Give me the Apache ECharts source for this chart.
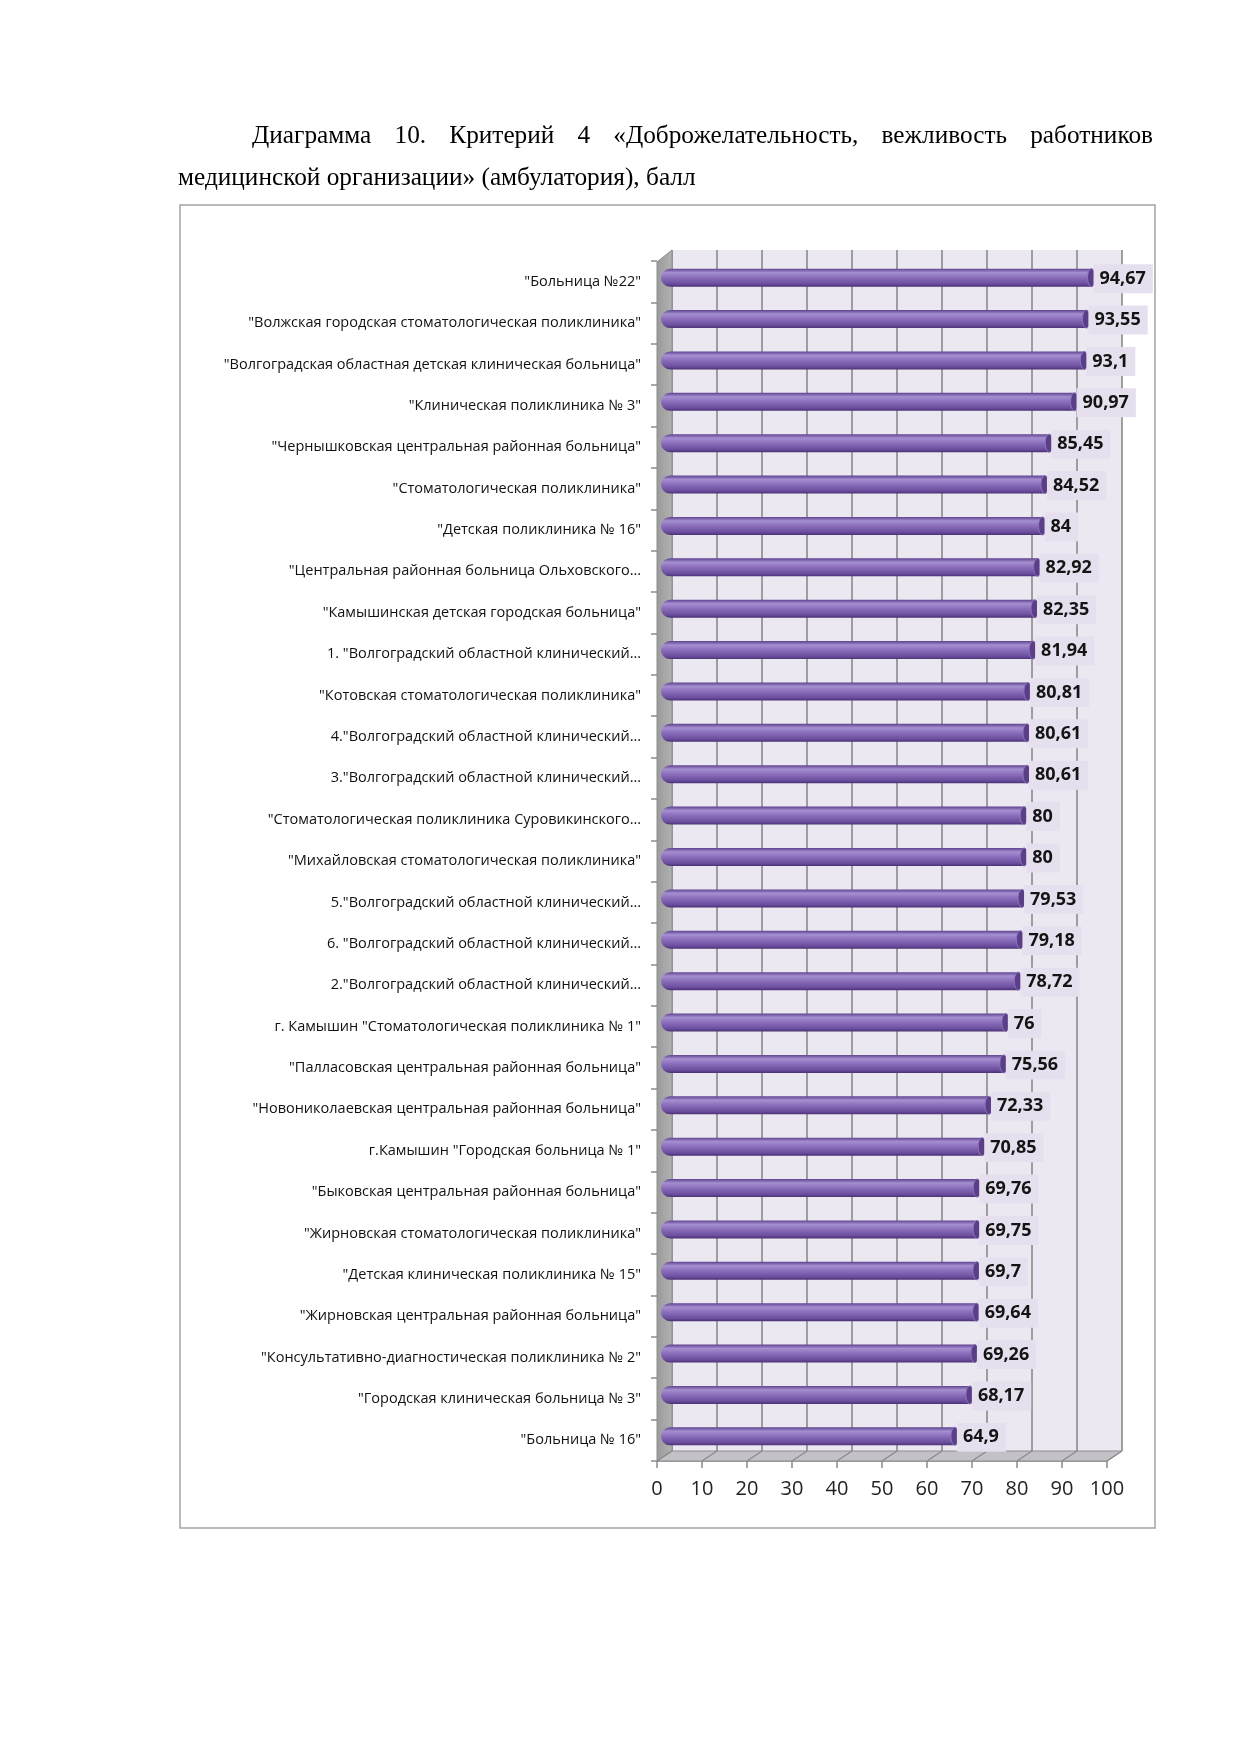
<!DOCTYPE html>
<html>
<head>
<meta charset="UTF-8">
<title>Диаграмма 10</title>
<script src="https://cdn.jsdelivr.net/npm/echarts@6.0.0/dist/echarts.min.js"></script>
<style>
  body { margin: 0; background: #fff; }
  #page { position: relative; width: 1241px; height: 1754px; }
  #chart { position: absolute; left: 0; top: 0; width: 1241px; height: 1754px; }
  .cap { position: absolute; left: 178px; width: 984px; font-family: 'Liberation Serif', serif;
         font-size: 25.3px; line-height: 42px; color: #000; white-space: nowrap; z-index: 2; }
  #line1 { top: 113px; padding-left: 74px; width: 901px; text-align: justify; text-align-last: justify; white-space: normal; }
  #line2 { top: 155px; }
</style>
</head>
<body>
<div id="page">
  <div id="chart"></div>
  <div class="cap" id="line1">Диаграмма 10. Критерий 4 «Доброжелательность, вежливость работников</div>
  <div class="cap" id="line2">медицинской организации» (амбулатория), балл</div>
</div>
<script>
// данные, сверху вниз
var categories = [
  '"Больница №22"',
  '"Волжская городская стоматологическая поликлиника"',
  '"Волгоградская областная детская клиническая больница"',
  '"Клиническая поликлиника № 3"',
  '"Чернышковская центральная районная больница"',
  '"Стоматологическая поликлиника"',
  '"Детская поликлиника № 16"',
  '"Центральная районная больница Ольховского…',
  '"Камышинская детская городская больница"',
  '1. "Волгоградский областной клинический…',
  '"Котовская стоматологическая поликлиника"',
  '4."Волгоградский областной клинический…',
  '3."Волгоградский областной клинический…',
  '"Стоматологическая поликлиника Суровикинского…',
  '"Михайловская стоматологическая поликлиника"',
  '5."Волгоградский областной клинический…',
  '6. "Волгоградский областной клинический…',
  '2."Волгоградский областной клинический…',
  'г. Камышин "Стоматологическая поликлиника № 1"',
  '"Палласовская центральная районная больница"',
  '"Новониколаевская центральная районная больница"',
  'г.Камышин "Городская больница № 1"',
  '"Быковская центральная районная больница"',
  '"Жирновская стоматологическая поликлиника"',
  '"Детская клиническая поликлиника № 15"',
  '"Жирновская центральная районная больница"',
  '"Консультативно-диагностическая поликлиника № 2"',
  '"Городская клиническая больница № 3"',
  '"Больница № 16"'
];
var values = [94.67, 93.55, 93.1, 90.97, 85.45, 84.52, 84, 82.92, 82.35, 81.94,
  80.81, 80.61, 80.61, 80, 80, 79.53, 79.18, 78.72, 76, 75.56,
  72.33, 70.85, 69.76, 69.75, 69.7, 69.64, 69.26, 68.17, 64.9];
var axisMin = 0, axisMax = 100, axisStep = 10;

var chart = echarts.init(document.getElementById('chart'));

function fmt(v) { return String(v).replace('.', ','); }

function renderBar(params, api) {
  var i = api.value(0), v = api.value(1);
  var s = api.coord([0, i]);
  var e = api.coord([v, i]);
  var h = 18, y0 = s[1] - h / 2;
  var grad = new echarts.graphic.LinearGradient(0, 0, 0, 1, [
    { offset: 0, color: '#5e4390' },
    { offset: 0.22, color: '#a58fd0' },
    { offset: 0.5, color: '#8a6dbb' },
    { offset: 0.85, color: '#6a4d9c' },
    { offset: 1, color: '#4a3174' }
  ]);
  return {
    type: 'group',
    children: [
      { type: 'rect', shape: { x: s[0] + 4, y: y0, width: e[0] - s[0] - 4, height: h, r: [9, 0, 0, 9] },
        style: { fill: grad } },
      { type: 'ellipse', shape: { cx: e[0], cy: s[1], rx: 4, ry: h / 2 },
        style: { fill: '#5a3f88', stroke: '#8f77bd', lineWidth: 1 } },
      { type: 'text', style: {
          text: fmt(v), x: e[0] + 2, y: s[1] + 1, verticalAlign: 'middle', align: 'left',
          font: 'bold 18px "Open Sans"', fill: '#141414',
          backgroundColor: '#e6e0ee', padding: [6, 7, 5, 6] } }
    ]
  };
}

chart.setOption({
  animation: false,
  grid: [
    { left: 672, right: 119, top: 250, bottom: 303, show: true, backgroundColor: '#ece8f1', borderWidth: 0 },
    { left: 657, right: 134, top: 261, bottom: 293 },
    { left: 657, right: 125, top: 257, bottom: 297 }
  ],
  xAxis: [
    { gridIndex: 0, type: 'value', min: axisMin, max: axisMax, interval: axisStep,
      axisLine: { show: false }, axisTick: { show: false }, axisLabel: { show: false },
      splitLine: { show: true, lineStyle: { color: '#8a8a8a', width: 1.6 } } },
    { gridIndex: 1, type: 'value', min: axisMin, max: axisMax, interval: axisStep,
      axisLine: { show: true, onZero: false, lineStyle: { color: '#8c8c8c', width: 1.5 } },
      axisTick: { show: true, length: 7, lineStyle: { color: '#8c8c8c', width: 1.5 } },
      axisLabel: { margin: 18, fontFamily: 'Open Sans', fontSize: 20, color: '#222' },
      splitLine: { show: false } },
    { gridIndex: 2, type: 'value', min: axisMin, max: axisMax, show: false }
  ],
  yAxis: [
    { gridIndex: 0, type: 'category', data: categories, inverse: true, show: false },
    { gridIndex: 1, type: 'category', data: categories, inverse: true,
      axisLine: { show: false },
      axisTick: { show: true, length: 6, lineStyle: { color: '#8c8c8c', width: 1.5 } },
      axisLabel: { margin: 16, fontFamily: 'Open Sans', fontSize: 14.5, color: '#111' } },
    { gridIndex: 2, type: 'category', data: categories, inverse: true, show: false }
  ],
  series: [{
    type: 'custom', xAxisIndex: 2, yAxisIndex: 2, z: 10,
    renderItem: renderBar,
    encode: { x: 1, y: 0 },
    data: values.map(function (v, i) { return [i, v]; })
  }]
});

// рамка, боковая стенка и пол псевдо-3D, по координатам осей
function decorate() {
  var back = function (v) { return chart.convertToPixel({ xAxisIndex: 0 }, v); };
  var front = function (v) { return chart.convertToPixel({ xAxisIndex: 1 }, v); };
  var g0 = chart.getModel().getComponent('grid', 0).coordinateSystem.getRect();
  var g1 = chart.getModel().getComponent('grid', 1).coordinateSystem.getRect();
  var bTop = g0.y, bBot = g0.y + g0.height, fTop = g1.y + 1, fBot = g1.y + g1.height;
  var els = [
    { type: 'rect', shape: { x: 180, y: 205, width: 975, height: 1323 }, z: -10,
      style: { fill: '#fff', stroke: '#a3a3a3', lineWidth: 1.5 } },
    { type: 'polygon', z: 5,
      shape: { points: [[front(0), fTop], [back(0), bTop], [back(0), bBot], [front(0), fBot]] },
      style: { fill: new echarts.graphic.LinearGradient(0, 0, 1, 0, [
        { offset: 0, color: '#9a9a9a' }, { offset: 1, color: '#b2b2b2' }]), stroke: '#8c8c8c', lineWidth: 1 } },
    { type: 'polygon', z: 5,
      shape: { points: [[front(0), fBot], [back(0), bBot], [back(100), bBot], [front(100), fBot]] },
      style: { fill: '#c4c0c8', stroke: '#8c8c8c', lineWidth: 1 } }
  ];
  for (var v = axisMin; v <= axisMax; v += axisStep) {
    els.push({ type: 'line', z: 6, shape: { x1: front(v), y1: fBot, x2: back(v), y2: bBot },
      style: { stroke: '#8a8a8a', lineWidth: 1.3 } });
  }
  chart.setOption({ graphic: { elements: els } });
}
decorate();
</script>
</body>
</html>
